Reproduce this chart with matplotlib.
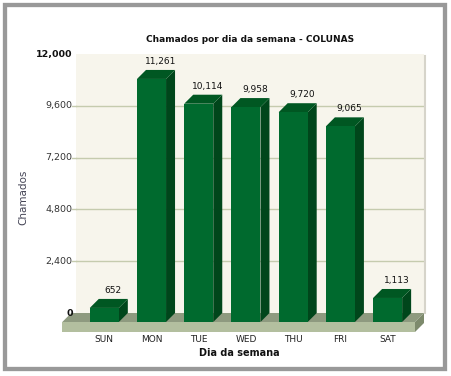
import matplotlib
matplotlib.use("Agg")
import matplotlib.pyplot as plt
from matplotlib.patches import Polygon, Rectangle

# Dados do gráfico
dias = ["SUN", "MON", "TUE", "WED", "THU", "FRI", "SAT"]
chamados = [652, 11261, 10114, 9958, 9720, 9065, 1113]
yticks = [0, 2400, 4800, 7200, 9600, 12000]

W, H = 451, 376
fig = plt.figure(figsize=(W / 100, H / 100), dpi=100)
fig.patch.set_facecolor("white")

# moldura cinza
fig.add_artist(Rectangle((5 / W, 7 / H), 440 / W, 364 / H, transform=fig.transFigure,
                         fill=False, edgecolor="#999999", linewidth=3.1))

# parede do fundo (eixo)
ax = fig.add_axes([76 / W, 63 / H, 348 / W, 259 / H])
ax.set_facecolor("#F7F5EC")
ax.set_xlim(-0.79, 6.58)
ax.set_ylim(0, 12000)
for s in ax.spines.values():
    s.set_visible(False)

# linhas de grade
for v in yticks[1:-1]:
    ax.axhline(v, color="#C5CBAE", linewidth=1.0, zorder=1)
    ax.plot([-0.79 - 0.08, -0.79], [v, v], color="#C5CBAE", linewidth=1.0, clip_on=False)
ax.set_xticks([])
ax.set_yticks([])

# sombra à direita da parede
ax.plot([6.58 + 0.03, 6.58 + 0.03], [0, 11900], color="#D6D4CA", linewidth=1.5, clip_on=False)

# profundidade 3D em unidades de dados
DEPTH = 9  # pixels
p = ax.transData.transform([(0, 0), (1, 1)])
ox = DEPTH / (p[1, 0] - p[0, 0])
oy = DEPTH / (p[1, 1] - p[0, 1])
uy = 1 / (p[1, 1] - p[0, 1])

# piso
x0, x1 = ax.get_xlim()
x0 = x0 - 0.1
fh = 10 * uy
ax.add_patch(Polygon([(x0, 0), (x1, 0), (x1 - ox, -oy), (x0 - ox, -oy)],
                     closed=True, facecolor="#8E9A7F", edgecolor="none", clip_on=False, zorder=2))
ax.add_patch(Polygon([(x0 - ox, -oy), (x1 - ox, -oy), (x1 - ox, -oy - fh), (x0 - ox, -oy - fh)],
                     closed=True, facecolor="#B3BF9F", edgecolor="none", clip_on=False, zorder=2))
ax.add_patch(Polygon([(x1 - ox, -oy), (x1, 0), (x1, -fh), (x1 - ox, -oy - fh)],
                     closed=True, facecolor="#7D8A6C", edgecolor="none", clip_on=False, zorder=2))

# barras 3D
bw = 0.615
for i, v in enumerate(chamados):
    l, r = i - bw / 2, i + bw / 2
    front = [(l - ox, -oy), (r - ox, -oy), (r - ox, v - oy), (l - ox, v - oy)]
    top = [(l - ox, v - oy), (r - ox, v - oy), (r, v), (l, v)]
    side = [(r - ox, -oy), (r, 0), (r, v), (r - ox, v - oy)]
    ax.add_patch(Polygon(side, closed=True, facecolor="#00461B", edgecolor="none", clip_on=False, zorder=3))
    ax.add_patch(Polygon(top, closed=True, facecolor="#005722", edgecolor="none", clip_on=False, zorder=3))
    ax.add_patch(Polygon(front, closed=True, facecolor="#006A2E", edgecolor="none", clip_on=False, zorder=4))
    ax.text(i, v + 4 * uy, f"{v:,}", ha="center", va="bottom", fontsize=6.5,
            color="#111111", zorder=5)
    # rótulo da categoria
    ax.text(i - ox, -oy - fh - 3 * uy, dias[i], ha="center", va="top", fontsize=6.5,
            color="#222222")

# rótulos do eixo y
for v in yticks:
    bold = v in (0, 12000)
    ax.text(-0.79 - 0.07, v, f"{v:,}", ha="right", va="center", fontsize=6.8,
            fontweight="bold" if bold else "normal", color="#111111" if bold else "#333333")

# títulos
fig.text(250 / W, 1 - 39 / H, "Chamados por dia da semana - COLUNAS", ha="center", va="center",
         fontsize=6.5, fontweight="bold", color="#111111")
fig.text(239 / W, 1 - 353 / H, "Dia da semana", ha="center", va="center",
         fontsize=7, fontweight="bold", color="#111111")
fig.text(23 / W, 1 - 197 / H, "Chamados", ha="center", va="center", rotation=90,
         fontsize=7.5, color="#444455")

plt.savefig("out.png", dpi=100)
